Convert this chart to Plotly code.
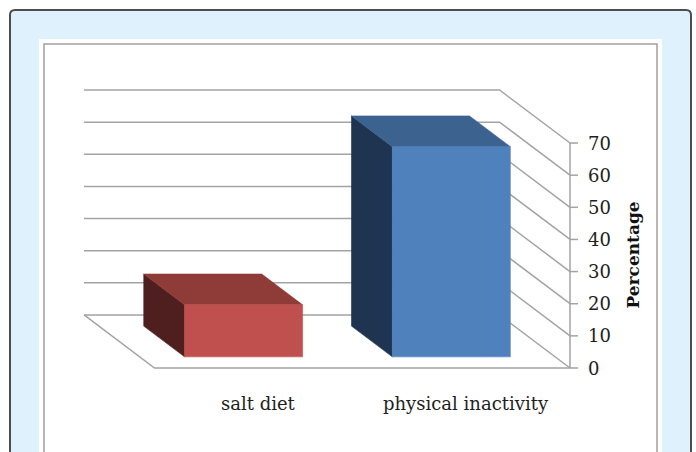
import plotly.graph_objects as go

# ---- data -------------------------------------------------------------
categories = ["salt diet", "physical inactivity"]
percentages = [16.2, 65.4]
tick_values = [0, 10, 20, 30, 40, 50, 60, 70]
tick_labels = ["0", "10", "20", "30", "40", "50", "60", "70"]
axis_title = "Percentage"

front_colors = ["#c0504d", "#4f81bd"]
top_colors = ["#8f3b38", "#3c6290"]
side_colors = ["#4e1f1e", "#1f3450"]

# ---- geometry of the oblique 3-D projection --------------------------
W, H = 696, 452
X0_PX, UX = 154.5, 207.75   # pixel of x=0 and pixels per category unit
Y0_PX, UV = 368.0, 3.214    # pixel of value 0 and pixels per percent
DX, DY = -0.339, 16.5       # offset of the back wall (data units)
BAR_HALF = 0.284            # half bar width (category units)
D_FRONT, D_BACK = 0.21, 0.79
N = len(categories)
V_MAX = tick_values[-1]
TICK_LEN = 8 / UX
GRID = "#a3a3a3"
TEXT = "#1e1e1e"
FONT = "DejaVu Serif"


def proj(x, v, d):
    return x + d * DX, v + d * DY


def px(x):
    return x / W


def py(y):
    return 1 - y / H


fig = go.Figure()

# gridlines on the back wall and right wall, plus the floor outline
gx, gy = [], []
for v in tick_values:
    for p in (proj(0, v, 1), proj(N, v, 1), proj(N, v, 0)):
        gx.append(p[0]); gy.append(p[1])
    gx.append(None); gy.append(None)
for p in (proj(0, 0, 1), proj(0, 0, 0), proj(N, 0, 0)):
    gx.append(p[0]); gy.append(p[1])
gx.append(None); gy.append(None)
# value axis with tick marks
gx += [N, N, None]; gy += [0, V_MAX, None]
for v in tick_values:
    gx += [N, N + TICK_LEN, None]; gy += [v, v, None]

fig.add_trace(go.Scatter(x=gx, y=gy, mode="lines",
                         line=dict(color=GRID, width=1.5),
                         hoverinfo="skip", showlegend=False))


def face(points, color, edge):
    xs = [p[0] for p in points] + [points[0][0]]
    ys = [p[1] for p in points] + [points[0][1]]
    fig.add_trace(go.Scatter(x=xs, y=ys, mode="lines", fill="toself",
                             fillcolor=color, line=dict(color=edge, width=0.6),
                             hoverinfo="skip", showlegend=False))


for i, (cat, val) in enumerate(zip(categories, percentages)):
    xl, xr = i + 0.5 - BAR_HALF, i + 0.5 + BAR_HALF
    side = [proj(xl, 0, D_FRONT), proj(xl, val, D_FRONT),
            proj(xl, val, D_BACK), proj(xl, 0, D_BACK)]
    top = [proj(xl, val, D_FRONT), proj(xr, val, D_FRONT),
           proj(xr, val, D_BACK), proj(xl, val, D_BACK)]
    front = [proj(xl, 0, D_FRONT), proj(xr, 0, D_FRONT),
             proj(xr, val, D_FRONT), proj(xl, val, D_FRONT)]
    face(side, side_colors[i], side_colors[i])
    face(top, top_colors[i], top_colors[i])
    face(front, front_colors[i], front_colors[i])

annotations = []
for v, lab in zip(tick_values, tick_labels):
    annotations.append(dict(x=N, y=v, xref="x", yref="y", text=lab,
                            showarrow=False, xanchor="left", yanchor="middle",
                            xshift=16, font=dict(family=FONT, size=18, color=TEXT)))
for i, cat in enumerate(categories):
    annotations.append(dict(x=i + 0.5, y=0, xref="x", yref="y", text=cat,
                            showarrow=False, xanchor="center", yanchor="middle",
                            yshift=-35, font=dict(family=FONT, size=18, color=TEXT)))
annotations.append(dict(x=N, y=V_MAX / 2, xref="x", yref="y",
                        text="<b>" + axis_title + "</b>", textangle=-90,
                        showarrow=False, xanchor="center", yanchor="middle",
                        xshift=63, font=dict(family=FONT, size=17, color="#111")))

# frame: light blue rounded panel, white chart area, thin grey border
r = 5
outer = (f"M {px(10)},{py(470)} L {px(10)},{py(10 + r)} "
         f"Q {px(10)},{py(10)} {px(10 + r)},{py(10)} "
         f"L {px(691 - r)},{py(10)} Q {px(691)},{py(10)} {px(691)},{py(10 + r)} "
         f"L {px(691)},{py(470)} Z")
shapes = [
    dict(type="path", path=outer, xref="paper", yref="paper",
         fillcolor="#dff1fc", line=dict(color="#4d4d4d", width=2), layer="below"),
    dict(type="rect", xref="paper", yref="paper", x0=px(39), x1=px(662),
         y0=py(39), y1=py(470), fillcolor="white", line=dict(width=0), layer="below"),
    dict(type="rect", xref="paper", yref="paper", x0=px(44), x1=px(657),
         y0=py(44), y1=py(470), fillcolor="rgba(0,0,0,0)",
         line=dict(color="#a0a0a0", width=1.5), layer="below"),
]

fig.update_layout(
    width=W, height=H,
    margin=dict(l=0, r=0, t=0, b=0),
    paper_bgcolor="white", plot_bgcolor="rgba(0,0,0,0)",
    xaxis=dict(range=[-X0_PX / UX, (W - X0_PX) / UX], visible=False, fixedrange=True),
    yaxis=dict(range=[(Y0_PX - H) / UV, Y0_PX / UV], visible=False, fixedrange=True),
    shapes=shapes, annotations=annotations, showlegend=False,
)

fig.write_html("out.html")
